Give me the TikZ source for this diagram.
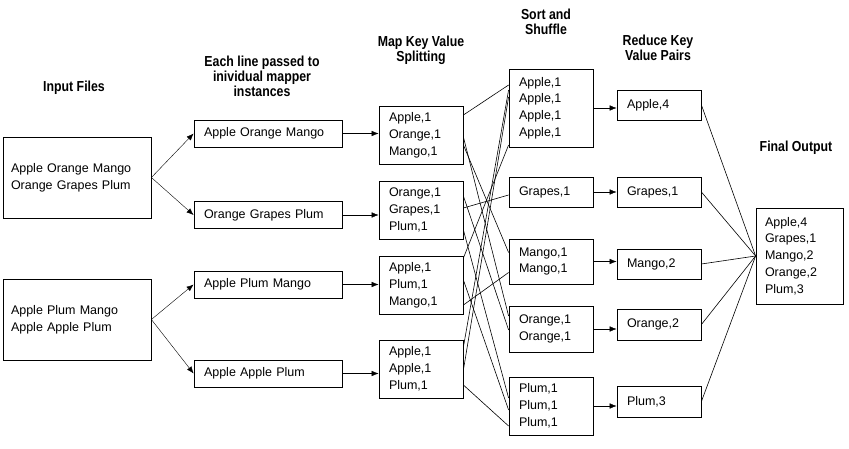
\documentclass[tikz,border=0pt]{standalone}
\usepackage{fontspec}
\setmainfont{Liberation Sans}
\newfontfamily\headfont[FakeStretch=0.85]{Liberation Sans}
\usetikzlibrary{arrows.meta}

\begin{document}
\begin{tikzpicture}[x=1pt, y=-1pt, >={Latex[length=7pt,width=5.5pt]},
    head/.style={align=center, font=\headfont\fontsize{14.5}{15}\selectfont\bfseries},
    box/.style={draw, line width=0.8pt, align=left, inner ysep=0pt,
    font=\fontsize{12.5}{16.8}\selectfont},
    line/.style={box, inner xsep=10pt, text width=128pt, minimum height=27pt},
    pair/.style={box, inner xsep=10pt, text width=64pt},
    link/.style={line width=0.6pt}]
  \useasboundingbox (0,0) rectangle (849,449);
  \node[head] (hI) at (74,88) {Input Files};
  \node[head] (hL) at (262,76) {Each line passed to\\inividual mapper\\instances};
  \node[head] (hM) at (421,50) {Map Key Value\\Splitting};
  \node[head] (hS) at (546,22) {Sort and\\Shuffle};
  \node[head] (hR) at (658,47.5) {Reduce Key\\Value Pairs};
  \node[head] (hF) at (796,148) {Final Output};
  \node[box, inner xsep=8pt, text width=132pt, minimum height=81pt] (I1) at (77,177.5) {Apple Orange Mango\\Orange Grapes Plum};
  \node[box, inner xsep=8pt, text width=132pt, minimum height=81pt] (I2) at (77,319.5) {Apple Plum Mango\\Apple Apple Plum};
  \node[line] (L1) at (268,133.5) {Apple Orange Mango};
  \node[line] (L2) at (268,215) {Orange Grapes Plum};
  \node[line] (L3) at (268,284.5) {Apple Plum Mango};
  \node[line] (L4) at (268,373.5) {Apple Apple Plum};
  \node[pair, minimum height=58pt] (M1) at (421,135) {Apple,1\\Orange,1\\Mango,1};
  \node[pair, minimum height=58pt] (M2) at (421,210) {Orange,1\\Grapes,1\\Plum,1};
  \node[pair, minimum height=58pt] (M3) at (421,285) {Apple,1\\Plum,1\\Mango,1};
  \node[pair, minimum height=58pt] (M4) at (421,369) {Apple,1\\Apple,1\\Plum,1};
  \node[pair, minimum height=78pt] (S1) at (551,108) {Apple,1\\Apple,1\\Apple,1\\Apple,1};
  \node[pair, minimum height=30pt] (S2) at (551,192) {Grapes,1};
  \node[pair, minimum height=45pt] (S3) at (551,261.5) {Mango,1\\Mango,1};
  \node[pair, minimum height=46pt] (S4) at (551,329) {Orange,1\\Orange,1};
  \node[pair, minimum height=58pt] (S5) at (551,406) {Plum,1\\Plum,1\\Plum,1};
  \node[pair, minimum height=30pt] (R1) at (659,105) {Apple,4};
  \node[pair, minimum height=30pt] (R2) at (659,192) {Grapes,1};
  \node[pair, minimum height=30pt] (R3) at (659,264) {Mango,2};
  \node[pair, minimum height=31pt] (R4) at (659,324.5) {Orange,2};
  \node[pair, minimum height=31pt] (R5) at (659,401.5) {Plum,3};
  \node[box, inner xsep=9pt, text width=69pt, minimum height=96pt] (F) at (799.5,256) {Apple,4\\Grapes,1\\Mango,2\\Orange,2\\Plum,3};
  \draw[->] (I1.east) -- (L1.west);
  \draw[->] (I1.east) -- (L2.west);
  \draw[->] (I2.east) -- (L3.west);
  \draw[->] (I2.east) -- (L4.west);
  \draw[->] (L1.east) -- (L1.east -| M1.west);
  \draw[->] (L2.east) -- (L2.east -| M2.west);
  \draw[->] (L3.east) -- (L3.east -| M3.west);
  \draw[->] (L4.east) -- (L4.east -| M4.west);
  \draw[link] ([yshift=20pt]M1.east) -- ([yshift=23pt]S1.west);
  \draw[link] ([yshift=-2pt]M1.east) -- ([yshift=13pt]S4.west);
  \draw[link] ([yshift=-10pt]M1.east) -- ([yshift=9pt]S3.west);
  \draw[link] ([yshift=14pt]M2.east) -- ([yshift=-1pt]S4.west);
  \draw[link] ([yshift=2pt]M2.east) -- ([yshift=-3pt]S2.west);
  \draw[link] ([yshift=-20pt]M2.east) -- ([yshift=8pt]S5.west);
  \draw[link] ([yshift=27pt]M3.east) -- ([yshift=-37pt]S1.west);
  \draw[link] ([yshift=5pt]M3.east) -- ([yshift=-4pt]S5.west);
  \draw[link] ([yshift=-20pt]M3.east) -- ([yshift=-11pt]S3.west);
  \draw[link] ([yshift=22pt]M4.east) -- ([yshift=18pt]S1.west);
  \draw[link] ([yshift=-1pt]M4.east) -- ([yshift=11pt]S1.west);
  \draw[link] ([yshift=-16pt]M4.east) -- ([yshift=-20pt]S5.west);
  \draw[->] (S1.east) -- (S1.east -| R1.west);
  \draw[->] (S2.east) -- (S2.east -| R2.west);
  \draw[->] (S3.east) -- (S3.east -| R3.west);
  \draw[->] (S4.east) -- (S4.east -| R4.west);
  \draw[->] (S5.east) -- (S5.east -| R5.west);
  \draw[link] (R1.east) -- (F.west);
  \draw[link] (R2.east) -- (F.west);
  \draw[link] (R3.east) -- (F.west);
  \draw[link] (R4.east) -- (F.west);
  \draw[link] (R5.east) -- (F.west);
\end{tikzpicture}
\end{document}
